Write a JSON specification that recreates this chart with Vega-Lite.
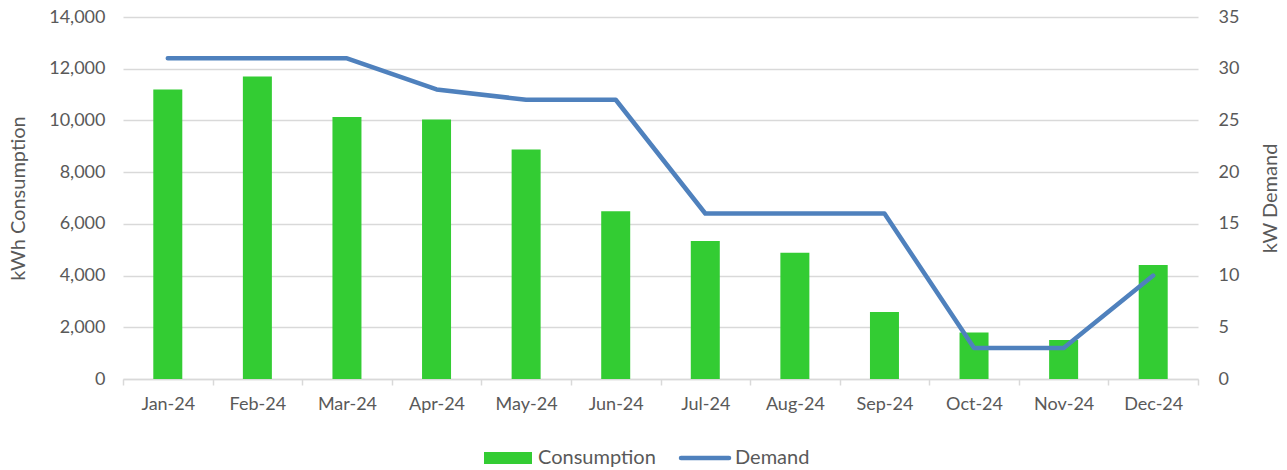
{
  "$schema": "https://vega.github.io/schema/vega-lite/v6.json",
  "width": 1075,
  "height": 362,
  "autosize": "none",
  "padding": {"left": 123, "top": 17, "right": 89, "bottom": 91},
  "background": "white",
  "config": {
    "font": "Lato",
    "view": {"stroke": null}
  },
  "data": {"values": [
    {"month": "Jan-24", "consumption": 11200, "demand": 31},
    {"month": "Feb-24", "consumption": 11700, "demand": 31},
    {"month": "Mar-24", "consumption": 10130, "demand": 31},
    {"month": "Apr-24", "consumption": 10040, "demand": 28},
    {"month": "May-24", "consumption": 8880, "demand": 27},
    {"month": "Jun-24", "consumption": 6490, "demand": 27},
    {"month": "Jul-24", "consumption": 5340, "demand": 16},
    {"month": "Aug-24", "consumption": 4880, "demand": 16},
    {"month": "Sep-24", "consumption": 2590, "demand": 16},
    {"month": "Oct-24", "consumption": 1800, "demand": 3},
    {"month": "Nov-24", "consumption": 1510, "demand": 3},
    {"month": "Dec-24", "consumption": 4410, "demand": 10}
  ]},
  "encoding": {
    "x": {
      "field": "month", "type": "ordinal", "sort": null,
      "scale": {"paddingInner": 0, "paddingOuter": 0},
      "axis": {"title": null, "labelAngle": 0, "tickBand": "extent", "domainColor": "#D9D9D9", "domainWidth": 1.5, "tickColor": "#D9D9D9", "tickWidth": 1.5, "tickSize": 6, "labelPadding": 10, "labelFontSize": 18, "labelColor": "#595959", "labelFont": "Lato"}
    }
  },
  "layer": [
    {
      "mark": {"type": "bar", "size": 29},
      "encoding": {
        "y": {"field": "consumption", "type": "quantitative", "scale": {"domain": [0, 14000]},
          "axis": {"title": "kWh Consumption", "values": [0, 2000, 4000, 6000, 8000, 10000, 12000, 14000], "format": ",.0f", "grid": true, "gridColor": "#D9D9D9", "gridWidth": 1.5, "domain": false, "ticks": false, "labelPadding": 18, "titlePadding": 20, "labelFontSize": 18, "labelColor": "#595959", "labelFont": "Lato", "titleFontSize": 20, "titleColor": "#595959", "titleFont": "Lato", "titleFontWeight": "normal"}},
        "color": {"datum": "Consumption", "type": "nominal",
          "scale": {"domain": ["Consumption", "Demand"], "range": ["#33CC33", "#4F81BD"]},
          "legend": {"title": null, "orient": "none", "legendX": 375, "legendY": 431, "direction": "horizontal", "labelFontSize": 20, "labelColor": "#595959", "labelFont": "Lato", "symbolSize": 2304, "columnPadding": 16, "labelOffset": 20,
            "encode": {"symbols": {"update": {
              "shape": {"signal": "datum.value === 'Demand' ? 'stroke' : 'M-1,-0.25H1V0.25H-1Z'"},
              "fill": {"signal": "datum.value === 'Demand' ? 'transparent' : '#33CC33'"},
              "stroke": {"signal": "datum.value === 'Demand' ? '#4F81BD' : '#33CC33'"},
              "strokeWidth": {"signal": "datum.value === 'Demand' ? 4.5 : 0"},
              "strokeCap": {"value": "round"},
              "opacity": {"value": 1}
            }}}}
        }
      }
    },
    {
      "mark": {"type": "line", "strokeWidth": 4.5, "strokeCap": "round", "strokeJoin": "round"},
      "encoding": {
        "y": {"field": "demand", "type": "quantitative", "scale": {"domain": [0, 35]},
          "axis": {"orient": "right", "title": "kW Demand", "titleAngle": 270, "values": [0, 5, 10, 15, 20, 25, 30, 35], "grid": false, "domain": false, "ticks": false, "labelPadding": 20, "titlePadding": 42, "labelFontSize": 18, "labelColor": "#595959", "labelFont": "Lato", "titleFontSize": 20, "titleColor": "#595959", "titleFont": "Lato", "titleFontWeight": "normal"}},
        "color": {"datum": "Demand", "type": "nominal"}
      }
    }
  ],
  "resolve": {"scale": {"y": "independent"}}
}
